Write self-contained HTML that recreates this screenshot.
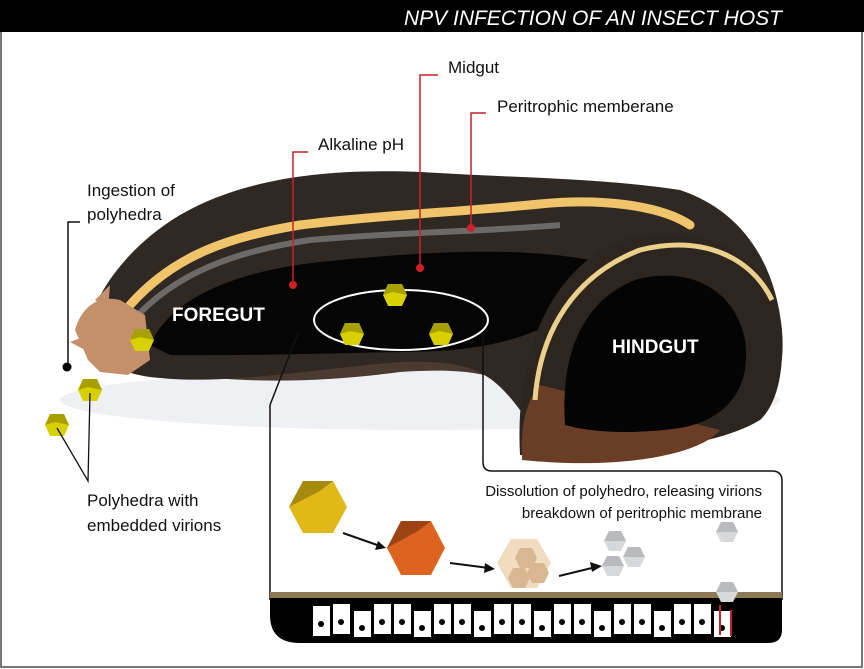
<!DOCTYPE html>
<html><head><meta charset="utf-8"><style>
html,body{margin:0;padding:0;background:#fff}
svg{display:block}
text{font-family:"Liberation Sans",sans-serif}
</style></head><body>
<svg width="864" height="669" viewBox="0 0 864 669" xmlns="http://www.w3.org/2000/svg">
<defs>
<g id="hy"><polygon points="-7,-11 7,-11 12,0 7,11 -7,11 -12,0" fill="#d8d000"/><polygon points="-7,-11 7,-11 12,0 -2,-3 -12,0" fill="#a8a000"/></g>
<g id="hg"><polygon points="-6,-10 6,-10 11,0 6,10 -6,10 -11,0" fill="#d6d8da"/><polygon points="-6,-10 6,-10 11,0 -11,0" fill="#b8babd"/></g>
</defs>
<rect x="0" y="0" width="864" height="669" fill="#fff"/>
<rect x="1" y="1" width="861" height="666" fill="none" stroke="#777" stroke-width="2"/>
<rect x="0" y="0" width="864" height="32" fill="#000"/>
<text x="782" y="25" font-size="21" font-style="italic" fill="#fff" text-anchor="end">NPV INFECTION OF AN INSECT HOST</text>

<!-- shadow -->
<ellipse cx="420" cy="400" rx="360" ry="30" fill="#eef0f4"/>
<!-- belly -->
<path d="M120,360 C200,385 300,385 400,372 C460,368 500,372 525,395 L525,360 L130,340 Z" fill="#4a3a30"/>
<!-- main body -->
<path d="M85,335 C95,290 130,245 180,215 C240,180 320,168 420,172 C520,178 600,178 680,190 C740,210 775,260 782,330 C786,380 770,415 740,420 L520,410 C490,370 470,360 400,362 C320,368 230,385 160,378 C120,375 95,360 85,335 Z" fill="#2f2823"/>
<path d="M150,345 C170,300 230,272 320,262 C420,252 520,245 600,262 L560,320 C520,340 480,352 400,352 C300,354 220,356 170,355 Z" fill="#050505"/>
<path d="M130,305 C170,260 220,238 300,225 C380,215 460,212 540,204 C600,198 660,205 690,225" fill="none" stroke="#f0c46a" stroke-width="9" stroke-linecap="round"/>
<path d="M135,318 C175,275 230,252 310,240 C400,232 480,232 560,225" fill="none" stroke="#6b6a68" stroke-width="6"/>
<!-- hindgut curl -->
<path d="M520,455 C515,360 545,280 610,245 C680,218 745,240 772,295 C790,345 782,400 760,420 C720,445 620,460 520,455 Z" fill="#2c2520"/>
<path d="M522,455 C520,420 530,395 540,385 L720,430 C700,455 620,470 522,460 Z" fill="#6a3e26"/>
<path d="M535,400 C540,330 575,275 640,250 C700,235 750,255 772,300" fill="none" stroke="#ead08a" stroke-width="5"/>
<path d="M565,425 C560,350 585,300 635,280 C690,265 735,290 745,340 C752,390 725,420 680,428 C630,435 590,432 565,425 Z" fill="#040404"/>
<!-- head -->
<path d="M75,330 C82,305 100,295 120,300 L145,315 L150,360 L128,375 L100,372 L88,360 Z" fill="#c4906a"/>
<path d="M95,300 L110,285 L108,310 Z M70,342 L88,335 L85,350 Z" fill="#c4906a"/>

<text x="172" y="321" font-size="19" font-weight="bold" fill="#fff">FOREGUT</text>
<text x="612" y="353" font-size="19" font-weight="bold" fill="#fff">HINDGUT</text>

<ellipse cx="401" cy="320" rx="87" ry="30" fill="none" stroke="#fff" stroke-width="2"/>
<use href="#hy" x="395" y="295"/>
<use href="#hy" x="352" y="334"/>
<use href="#hy" x="441" y="334"/>
<use href="#hy" x="142" y="340"/>
<use href="#hy" x="90" y="390"/>
<use href="#hy" x="57" y="425"/>

<!-- labels -->
<g font-size="17" fill="#111">
<text x="87" y="196">Ingestion of</text>
<text x="87" y="220">polyhedra</text>
<text x="318" y="150">Alkaline pH</text>
<text x="448" y="73">Midgut</text>
<text x="497" y="112">Peritrophic memberane</text>
<text x="87" y="506">Polyhedra with</text>
<text x="87" y="531">embedded virions</text>
</g>
<path d="M80,222 H68 V367" fill="none" stroke="#111" stroke-width="1.5"/>
<circle cx="67" cy="367" r="4.5" fill="#000"/>
<g stroke="#c8202a" stroke-width="1.5" fill="none">
<path d="M308,152 H293 V285"/><path d="M438,75 H420 V268"/><path d="M486,113 H471 V228"/>
</g>
<g fill="#d0202a"><circle cx="293" cy="285" r="4"/><circle cx="420" cy="268" r="4"/><circle cx="471" cy="228" r="4"/></g>
<path d="M57,428 L88,481 L90,393" fill="none" stroke="#111" stroke-width="1.3"/>

<!-- panel -->
<path d="M298,333 L270,405 V600" fill="none" stroke="#111" stroke-width="1.5"/>
<path d="M483,335 V462 Q483,471 492,471 H772 Q782,471 782,481 V600" fill="none" stroke="#111" stroke-width="1.5"/>
<rect x="270" y="592" width="512" height="6" fill="#8d7a55"/>
<path d="M270,598 H782 V630 Q782,643 768,643 H300 Q270,643 270,615 Z" fill="#000"/>
<g fill="#fff">
<rect x="313" y="606" width="17" height="30"/><rect x="333" y="604" width="17" height="30"/><rect x="354" y="611" width="17" height="26"/>
<rect x="374" y="604" width="17" height="30"/><rect x="394" y="604" width="17" height="30"/><rect x="414" y="611" width="17" height="26"/>
<rect x="434" y="604" width="17" height="30"/><rect x="454" y="604" width="17" height="30"/><rect x="474" y="611" width="17" height="26"/>
<rect x="494" y="604" width="17" height="30"/><rect x="514" y="604" width="17" height="30"/><rect x="534" y="611" width="17" height="26"/>
<rect x="554" y="604" width="17" height="30"/><rect x="574" y="604" width="17" height="30"/><rect x="594" y="611" width="17" height="26"/>
<rect x="614" y="604" width="17" height="30"/><rect x="634" y="604" width="17" height="30"/><rect x="654" y="611" width="17" height="26"/>
<rect x="674" y="604" width="17" height="30"/><rect x="694" y="604" width="17" height="30"/><rect x="714" y="611" width="17" height="26"/>
</g>
<g fill="#000">
<circle cx="321" cy="624" r="3"/><circle cx="341" cy="622" r="3"/><circle cx="362" cy="628" r="3"/>
<circle cx="382" cy="622" r="3"/><circle cx="402" cy="622" r="3"/><circle cx="422" cy="628" r="3"/>
<circle cx="442" cy="622" r="3"/><circle cx="462" cy="622" r="3"/><circle cx="482" cy="628" r="3"/>
<circle cx="502" cy="622" r="3"/><circle cx="522" cy="622" r="3"/><circle cx="542" cy="628" r="3"/>
<circle cx="562" cy="622" r="3"/><circle cx="582" cy="622" r="3"/><circle cx="602" cy="628" r="3"/>
<circle cx="622" cy="622" r="3"/><circle cx="642" cy="622" r="3"/><circle cx="662" cy="628" r="3"/>
<circle cx="682" cy="622" r="3"/><circle cx="702" cy="622" r="3"/><circle cx="722" cy="628" r="3"/>
</g>
<rect x="719" y="605" width="2" height="30" fill="#c8202a"/><rect x="730" y="610" width="2" height="26" fill="#c8202a"/>

<text x="762" y="496" font-size="15" fill="#111" text-anchor="end">Dissolution of polyhedro, releasing virions</text>
<text x="762" y="518" font-size="15" fill="#111" text-anchor="end">breakdown of peritrophic membrane</text>

<polygon points="303,481 333,481 347,507 333,533 303,533 289,507" fill="#e0b818"/>
<polygon points="303,481 333,481 320,491 289,507" fill="#a88a10"/>
<polygon points="401,521 431,521 445,548 431,575 401,575 387,548" fill="#dc6420"/>
<polygon points="401,521 431,521 418,531 387,548" fill="#9c4414"/>
<polygon points="511,539 537,539 551,563 537,588 511,588 497,563" fill="#f1dcc0"/>
<g fill="#d8b890"><polygon points="520,548 532,548 537,558 532,568 520,568 515,558"/><polygon points="532,563 544,563 549,573 544,583 532,583 527,573"/><polygon points="513,568 525,568 530,578 525,588 513,588 508,578"/></g>
<g stroke="#111" stroke-width="2"><line x1="343" y1="533" x2="380" y2="546"/><line x1="450" y1="563" x2="489" y2="568"/><line x1="559" y1="576" x2="596" y2="567"/></g>
<g fill="#111"><polygon points="386,548 375,550 378,541"/><polygon points="495,569 484,573 485,563"/><polygon points="602,566 592,572 590,562"/></g>
<use href="#hg" x="615" y="541"/><use href="#hg" x="634" y="557"/><use href="#hg" x="613" y="566"/>
<use href="#hg" x="727" y="532"/><use href="#hg" x="727" y="592"/>
</svg>
</body></html>
